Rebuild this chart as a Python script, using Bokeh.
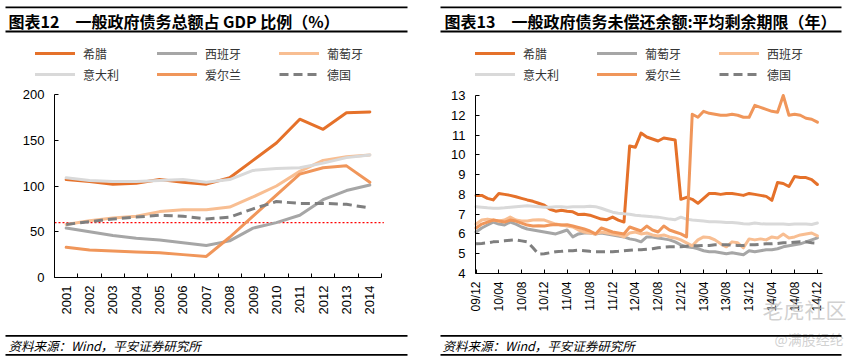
import math
from bokeh.plotting import figure
from bokeh.models import (FixedTicker, Label, BoxAnnotation, Legend,
                          LegendItem, Range1d, LinearAxis)
from bokeh.layouts import row
from bokeh.embed import file_html
from bokeh.resources import INLINE

# ---------------- data: left chart (debt / GDP, %) ----------------
years = ["2001", "2002", "2003", "2004", "2005", "2006", "2007",
         "2008", "2009", "2010", "2011", "2012", "2013", "2014"]
l_greece = [107, 105, 102, 103, 107, 104, 102, 109, 128, 147, 173, 162, 180, 181]
l_spain = [54, 50, 46, 43, 41, 38, 35, 40, 54, 60, 68, 85, 95, 101]
l_portugal = [58, 62, 65, 67, 72, 74, 74, 77, 88, 100, 116, 128, 132, 134]
l_italy = [109, 106, 105, 105, 106, 107, 104, 107, 117, 119, 120, 125, 131, 134]
l_ireland = [33, 30, 29, 28, 27, 25, 23, 44, 67, 90, 113, 120, 122, 104]
l_germany = [58, 61, 64, 66, 68, 67, 64, 66, 75, 83, 81, 81, 80, 76]
left_names = ["希腊", "西班牙", "葡萄牙", "意大利", "爱尔兰", "德国"]
left_yticks = [0, 50, 100, 150, 200]
threshold = 60

# ---------------- data: right chart (avg. remaining maturity, years) ----------------
month_labels = ["09/12", "10/04", "10/08", "10/12", "11/04", "11/08", "11/12", "12/04",
                "12/08", "12/12", "13/04", "13/08", "13/12", "14/04", "14/08", "14/12"]
r_greece = [7.95, 7.95, 7.8, 7.72, 8.05, 8.0, 7.95, 7.88, 7.8, 7.72, 7.65, 7.55, 7.45,
            7.25, 7.15, 7.2, 7.15, 7.12, 6.98, 7.0, 6.95, 6.85, 6.75, 6.72, 6.85, 6.7,
            6.6, 10.45, 10.38, 11.1, 10.9, 10.8, 10.7, 10.85, 10.8, 10.75, 7.75, 7.85,
            7.75, 7.55, 7.8, 8.05, 8.05, 8.0, 8.05, 8.05, 8.0, 7.95, 8.05, 8.0, 7.95,
            7.9, 7.7, 8.6, 8.55, 8.4, 8.9, 8.85, 8.85, 8.75, 8.5]
r_portugal = [6.1, 6.3, 6.45, 6.6, 6.5, 6.45, 6.6, 6.5, 6.35, 6.25, 6.2, 6.15, 6.1,
              6.05, 6.0, 6.1, 6.2, 5.85, 6.0, 6.05, 6.05, 6.0, 6.05, 6.0, 5.95, 5.9,
              5.85, 5.75, 5.7, 5.6, 5.85, 5.85, 5.8, 5.75, 5.7, 5.6, 5.45, 5.35, 5.32,
              5.25, 5.15, 5.1, 5.1, 5.05, 5.0, 5.05, 5.0, 4.95, 5.15, 5.1, 5.15, 5.2,
              5.2, 5.25, 5.35, 5.4, 5.45, 5.5, 5.6, 5.7, 5.8]
r_spain = [6.5, 6.7, 6.75, 6.7, 6.65, 6.7, 6.85, 6.7, 6.65, 6.65, 6.7, 6.72, 6.7,
           6.6, 6.5, 6.45, 6.4, 6.35, 6.2, 6.1, 6.05, 6.0, 6.1, 6.05, 6.0, 5.95,
           5.85, 6.05, 6.1, 6.0, 6.05, 5.95, 5.9, 5.95, 5.85, 5.8, 5.7, 5.55, 5.4,
           5.7, 5.85, 5.82, 5.7, 5.5, 5.35, 5.6, 5.55, 5.3, 5.75, 5.7, 5.75, 5.7,
           5.85, 5.8, 6.0, 5.8, 5.85, 5.95, 6.0, 6.05, 5.9]
r_italy = [7.38, 7.35, 7.32, 7.3, 7.3, 7.32, 7.35, 7.38, 7.4, 7.42, 7.4, 7.38, 7.35,
           7.35, 7.38, 7.37, 7.35, 7.37, 7.38, 7.37, 7.4, 7.38, 7.3, 7.2, 7.1, 7.05,
           7.02, 7.0, 6.95, 6.92, 6.9, 6.87, 6.85, 6.8, 6.75, 6.72, 6.85, 6.75, 6.7,
           6.68, 6.65, 6.62, 6.62, 6.6, 6.58, 6.58, 6.55, 6.52, 6.5, 6.55, 6.52, 6.5,
           6.5, 6.5, 6.5, 6.48, 6.5, 6.5, 6.5, 6.48, 6.55]
r_ireland = [6.3, 6.5, 6.6, 6.7, 6.65, 6.6, 6.7, 6.65, 6.55, 6.45, 6.4, 6.42, 6.4,
             6.45, 6.48, 6.45, 6.47, 6.4, 6.33, 6.25, 6.15, 6.0, 6.3, 6.2, 6.1, 6.05,
             6.0, 6.35, 6.25, 6.15, 6.4, 6.2, 6.1, 6.4, 6.2, 6.1, 6.0, 5.85, 12.05,
             11.9, 12.2, 12.1, 12.05, 12.0, 12.0, 12.05, 12.0, 11.9, 11.9, 12.5, 12.4,
             12.3, 12.2, 12.15, 13.0, 12.0, 12.05, 12.0, 11.85, 11.8, 11.65]
r_germany = [5.5, 5.52, 5.55, 5.6, 5.62, 5.65, 5.68, 5.7, 5.65, 5.6, 5.3, 4.98, 5.0,
             5.05, 5.1, 5.12, 5.15, 5.15, 5.18, 5.15, 5.12, 5.1, 5.1, 5.1, 5.1, 5.12,
             5.15, 5.18, 5.2, 5.2, 5.22, 5.25, 5.3, 5.33, 5.35, 5.35, 5.35, 5.38, 5.4,
             5.4, 5.42, 5.42, 5.45, 5.45, 5.45, 5.43, 5.42, 5.42, 5.45, 5.45, 5.48, 5.5,
             5.5, 5.52, 5.55, 5.55, 5.58, 5.6, 5.6, 5.55, 5.53]
right_names = ["希腊", "葡萄牙", "西班牙", "意大利", "爱尔兰", "德国"]
right_yticks = [4, 5, 6, 7, 8, 9, 10, 11, 12, 13]

# ---------------- style ----------------
CJK = "Noto Sans CJK SC"
NUM = "Liberation Sans"
C_DARK = "#E5712A"
C_GRAY = "#A6A6A6"
C_PEACH = "#F8BE92"
C_LGRAY = "#D9D9D9"
C_MID = "#F0965A"
C_DE = "#7F7F7F"
W, H = 432, 356


def ranges(x0, x1, y0, y1, pl, pr, pt, pb):
    """Extend data ranges so that the plot box (pl..pr, pt..pb in canvas px)
    maps to x0..x1 / y0..y1 while the frame covers the whole canvas."""
    kx = (x1 - x0) / (pr - pl)
    ky = (y1 - y0) / (pb - pt)
    xr = Range1d(x0 - pl * kx, x1 + (W - pr) * kx)
    yr = Range1d(y0 - (H - pb) * ky, y1 + pt * ky)
    return xr, yr


def make_fig(xr, yr, xb, yb):
    p = figure(width=W, height=H, output_backend="svg", toolbar_location=None,
               title=None, x_range=xr, y_range=yr, x_axis_location=None,
               y_axis_location=None, min_border=0)
    p.outline_line_color = None
    p.grid.visible = False
    xa = LinearAxis(fixed_location=yb[0], bounds=xb)
    ya = LinearAxis(fixed_location=xb[0], bounds=yb)
    for ax in (xa, ya):
        ax.axis_line_color = "black"
        ax.axis_line_width = 1
        ax.major_tick_in = 4
        ax.major_tick_out = 0
        ax.minor_tick_line_color = None
        ax.major_tick_line_color = "black"
        ax.major_label_text_font = NUM
        ax.major_label_text_color = "black"
    ya.major_label_standoff = 10
    ya.major_label_text_font_size = "13px"
    xa.major_label_orientation = math.pi / 2
    xa.major_label_standoff = 8
    p.add_layout(xa, "below")
    p.add_layout(ya, "left")
    return p, xa, ya


def draw(p, xs, ys, color, dash="solid"):
    return p.line(xs, ys, line_color=color, line_width=3, line_dash=dash,
                  line_join="round", line_cap="butt" if dash != "solid" else "round")


def rule(p, x0, x1, ytop, thick):
    p.add_layout(BoxAnnotation(left=x0, right=x1, bottom=H - ytop - thick, top=H - ytop,
                               left_units="screen", right_units="screen",
                               top_units="screen", bottom_units="screen",
                               fill_color="black", fill_alpha=1, line_color=None,
                               level="overlay"))


def text(p, x, ycenter, s, size, style="normal", color="black", alpha=1.0):
    p.add_layout(Label(x=x, y=H - ycenter, x_units="screen", y_units="screen", text=s,
                       text_font=CJK, text_font_size=size, text_font_style=style,
                       text_color=color, text_alpha=alpha, text_align="left",
                       text_baseline="middle"))


def legend(p, renderers, names, x, ybottom):
    lg = Legend(items=[LegendItem(label=n, renderers=[r]) for n, r in zip(names, renderers)],
                location=(x, H - ybottom), orientation="horizontal", ncols=3,
                glyph_width=40, glyph_height=20, label_standoff=8, label_width=73,
                label_height=20, spacing=1, padding=0, margin=0,
                border_line_color=None, background_fill_alpha=0,
                label_text_font=CJK, label_text_font_size="12px",
                label_text_color="#333333")
    p.add_layout(lg)


# ---------------- left figure ----------------
xl = list(range(len(years)))
xb1 = (xl[0] - 0.5, xl[-1] + 0.5)
yb1 = (left_yticks[0], left_yticks[-1])
xr1, yr1 = ranges(xb1[0], xb1[1], yb1[0], yb1[1], 54, 381, 94, 277)
p1, xa1, ya1 = make_fig(xr1, yr1, xb1, yb1)
xa1.ticker = FixedTicker(ticks=xl, minor_ticks=[i - 0.5 for i in range(len(years) + 1)])
xa1.major_label_overrides = {i: y for i, y in enumerate(years)}
xa1.major_tick_line_color = None
xa1.minor_tick_line_color = "black"
xa1.minor_tick_in = 4
xa1.minor_tick_out = 0
xa1.major_label_text_font_size = "13px"
ya1.ticker = FixedTicker(ticks=left_yticks)
p1.segment(x0=[xb1[0]], x1=[xb1[1] + 0.1], y0=[threshold], y1=[threshold],
           line_color="#FF0000", line_width=1.3, line_dash="2 2")
rl = [draw(p1, xl, l_greece, C_DARK), draw(p1, xl, l_spain, C_GRAY),
      draw(p1, xl, l_portugal, C_PEACH), draw(p1, xl, l_italy, C_LGRAY),
      draw(p1, xl, l_ireland, C_MID), draw(p1, xl, l_germany, C_DE, "9 5")]
legend(p1, rl, left_names, 35, 84)
rule(p1, 5, 407, 6, 1.7)
rule(p1, 5, 407, 30, 2)
rule(p1, 5, 407, 334.5, 1.7)
rule(p1, 5, 407, 353.5, 1.7)
text(p1, 8, 20, "图表12　一般政府债务总额占 GDP 比例（%）", "16px", "bold")
text(p1, 8, 345, "资料来源：Wind，平安证券研究所", "12.5px", "italic")

# ---------------- right figure ----------------
xm = list(range(len(r_greece)))
xb2 = (xm[0] - 0.1, xm[-1] + 0.9)
yb2 = (right_yticks[0], right_yticks[-1])
xr2, yr2 = ranges(xb2[0], xb2[1], yb2[0], yb2[1], 43, 390, 95, 273)
p2, xa2, ya2 = make_fig(xr2, yr2, xb2, yb2)
xa2.ticker = FixedTicker(ticks=[4 * i for i in range(len(month_labels))])
xa2.major_label_overrides = {4 * i: m for i, m in enumerate(month_labels)}
xa2.major_label_text_font_size = "12px"
ya2.ticker = FixedTicker(ticks=right_yticks)
rr = [draw(p2, xm, r_greece, C_DARK), draw(p2, xm, r_portugal, C_GRAY),
      draw(p2, xm, r_spain, C_PEACH), draw(p2, xm, r_italy, C_LGRAY),
      draw(p2, xm, r_ireland, C_MID), draw(p2, xm, r_germany, C_DE, "9 5")]
legend(p2, rr, right_names, 43, 84)
rule(p2, 8, 409, 6, 1.7)
rule(p2, 8, 409, 30, 2)
rule(p2, 8, 409, 334.5, 1.7)
rule(p2, 8, 409, 353.5, 1.7)
text(p2, 12, 20, "图表13　一般政府债务未偿还余额:平均剩余期限（年）", "16px", "bold")
text(p2, 10, 345, "资料来源：Wind，平安证券研究所", "12.5px", "italic")
# faint watermark visible in the reference
text(p2, 330, 308, "老虎社区", "21px", "normal", "#BDBDBD", 0.7)
text(p2, 342, 338, "@满股经纶", "14px", "normal", "#BDBDBD", 0.7)

layout = row(p1, p2, spacing=0)
open("out.html", "w").write(file_html(layout, INLINE))
